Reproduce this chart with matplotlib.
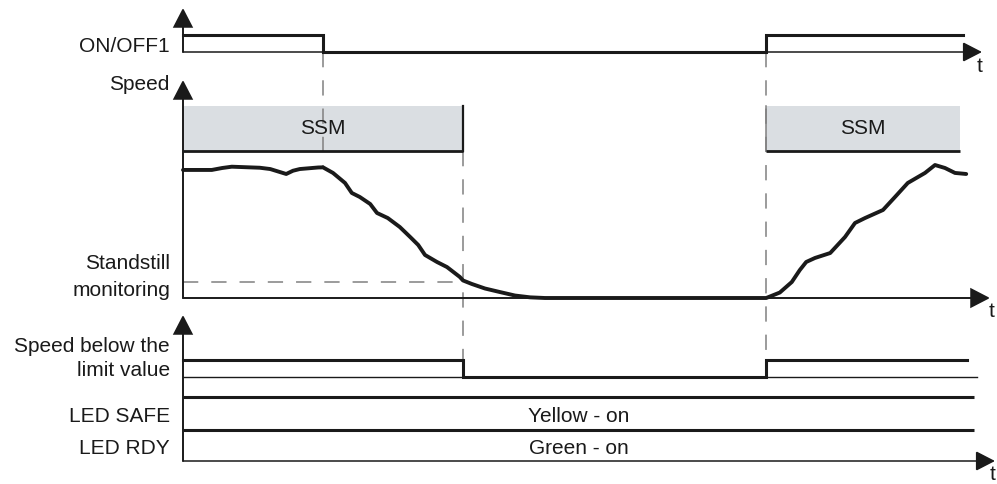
import matplotlib
matplotlib.use("Agg")
import matplotlib.pyplot as plt
from matplotlib.patches import Rectangle, ArrowStyle

# ---------------- data ----------------
# event times (time-axis units)
t_off = 17.5      # ON/OFF1 switched off
t_limit = 35.0    # speed drops below the standstill limit
t_on = 72.9       # ON/OFF1 switched on again

onoff_times = [0.0, 17.5, 72.9, 97.5]
onoff_levels = [1, 0, 1, 1]

speed_times = [0.0, 3.6, 4.9, 6.1, 9.6, 10.9, 12.9, 13.75, 14.6, 16.9, 17.5,
               18.75, 20.25, 21.1, 22.1, 23.4, 24.25, 25.6, 27.1, 28.4, 29.4,
               30.25, 31.75, 33.0, 34.6, 35.0, 36.1, 37.75, 39.6, 41.5, 43.4,
               45.25, 72.9, 74.6, 76.1, 77.1, 77.9, 79.0, 80.9, 82.75, 84.0,
               85.25, 87.5, 89.0, 90.6, 92.75, 94.0, 95.25, 96.5, 97.9]
speed_values = [98.5, 98.5, 100.0, 101.0, 100.2, 99.2, 95.4, 97.9, 99.2, 100.4,
                100.5, 96.2, 88.5, 80.8, 77.7, 72.3, 65.4, 61.5, 54.6, 46.9,
                40.8, 33.1, 27.7, 23.8, 16.2, 13.5, 10.8, 7.3, 4.6, 1.9, 0.5,
                0.0, 0.0, 4.2, 12.3, 21.5, 27.7, 30.8, 34.6, 46.9, 57.7, 61.5,
                67.7, 77.7, 88.5, 96.2, 102.3, 100.0, 96.2, 95.4]
standstill_limit = 12.5

ssm_windows = [(0.0, 35.0), (72.9, 97.1)]
ssm_label = "SSM"

below_times = [0.0, 35.0, 72.9, 98.0]
below_levels = [1, 0, 1, 1]

led_names = ["LED SAFE", "LED RDY"]
led_states = ["Yellow - on", "Green - on"]

# ---------------- layout / style ----------------
W, H, DPI = 997, 484, 100
X0 = 183.0          # pixel column of t = 0
PPT = 8.0           # pixels per time unit
INK = "#1a1a1a"
DASH = "#808080"
FS = 15
FONT = ["Liberation Sans", "DejaVu Sans"]


def t_of(px):
    return (px - X0) / PPT


fig = plt.figure(figsize=(W / DPI, H / DPI), dpi=DPI)
ax = fig.add_axes([0, 0, 1, 1])
ax.set_xlim(t_of(0), t_of(W))
ax.set_ylim(H, 0)
ax.axis("off")

head = ArrowStyle("-|>", head_length=1.2, head_width=0.62)


def axis_arrow(x0, y0, x1, y1, lw):
    ax.annotate("", xy=(x1, y1), xytext=(x0, y0),
                arrowprops=dict(arrowstyle=head, mutation_scale=10, lw=lw,
                                color=INK, shrinkA=0, shrinkB=0,
                                joinstyle="miter"), zorder=5)


def label(x_px, y_px, s, ha="right"):
    ax.text(t_of(x_px), y_px, s, ha=ha, va="baseline", fontsize=FS,
            family=FONT, color=INK)


# ---- ON/OFF1 row ----
on_base, on_h = 52.0, 17.0
axis_arrow(0, on_base, 0, 8, 1.4)
axis_arrow(0, on_base, t_of(982), on_base, 1.1)
ax.plot(onoff_times, [on_base - v * on_h for v in onoff_levels],
        drawstyle="steps-post", color=INK, lw=2.2, solid_joinstyle="miter", zorder=4)
label(170, 51.5, "ON/OFF1")
label(980, 72, "t", ha="center")

# ---- Speed row ----
sp_base, sp_scale = 298.0, 1.3
ssm_top, ssm_bot = 106.0, 151.0
for i, (a, b) in enumerate(ssm_windows):
    ax.add_patch(Rectangle((a, ssm_top), b - a, ssm_bot - ssm_top,
                           facecolor="#dadee2", edgecolor="none", zorder=1))
    ax.plot([a, b], [ssm_bot, ssm_bot], color=INK, lw=2.0, zorder=3,
            solid_capstyle="butt")
    ax.text((a + b) / 2 if i else t_off, 133.5, ssm_label, ha="center",
            va="baseline", fontsize=FS, family=FONT, color=INK, zorder=3)
# right border of first SSM window
ax.plot([ssm_windows[0][1]] * 2, [ssm_top, ssm_bot], color=INK, lw=1.6, zorder=3)

axis_arrow(0, sp_base, 0, 80, 1.4)
axis_arrow(0, sp_base, t_of(990), sp_base, 1.4)
ax.plot(speed_times, [sp_base - v * sp_scale for v in speed_values],
        color=INK, lw=2.8, solid_joinstyle="round", solid_capstyle="round", zorder=4)
thr_y = sp_base - standstill_limit * sp_scale
ax.plot([0, t_limit], [thr_y, thr_y], color=DASH, lw=1.1,
        linestyle=(0, (10, 8.5)), zorder=2)
label(169, 90, "Speed")
label(170, 269, "Standstill")
label(170, 295.5, "monitoring")
label(992, 317, "t", ha="center")

# ---- event dashed lines ----
ax.plot([t_off, t_off], [on_base, 167], color=DASH, lw=1.1,
        linestyle=(0, (10, 8.5)), zorder=2)
ax.plot([t_limit, t_limit], [ssm_bot, 360], color=DASH, lw=1.1,
        linestyle=(0, (10, 8.5)), zorder=2)
ax.plot([t_on, t_on], [on_base, 360], color=DASH, lw=1.1,
        linestyle=(0, (10, 8.5)), zorder=2)
ax.plot([t_on, t_on], [ssm_top, ssm_bot], color=DASH, lw=1.1, zorder=2)

# ---- Speed below the limit value ----
bl_base, bl_h = 377.0, 17.0
axis_arrow(0, 461, 0, 315, 1.4)
axis_arrow(0, 461, t_of(995), 461, 1.1)
ax.plot([0, t_of(977)], [bl_base, bl_base], color=INK, lw=1.0, zorder=3)
ax.plot(below_times, [bl_base - v * bl_h for v in below_levels],
        drawstyle="steps-post", color=INK, lw=2.2, solid_joinstyle="miter", zorder=4)
label(170, 351.5, "Speed below the")
label(170, 376.5, "limit value")

# ---- LEDs ----
led_y = [397.0, 430.0]
led_base = [421.5, 453.5]
for name, state, y, yb in zip(led_names, led_states, led_y, led_base):
    ax.plot([0, t_of(974)], [y, y], color=INK, lw=2.2, zorder=4,
            solid_capstyle="butt")
    label(170, yb, name)
    ax.text(t_of(579), yb, state, ha="center", va="baseline", fontsize=FS,
            family=FONT, color=INK)
label(993, 480, "t", ha="center")

fig.savefig("out.png", dpi=DPI)
